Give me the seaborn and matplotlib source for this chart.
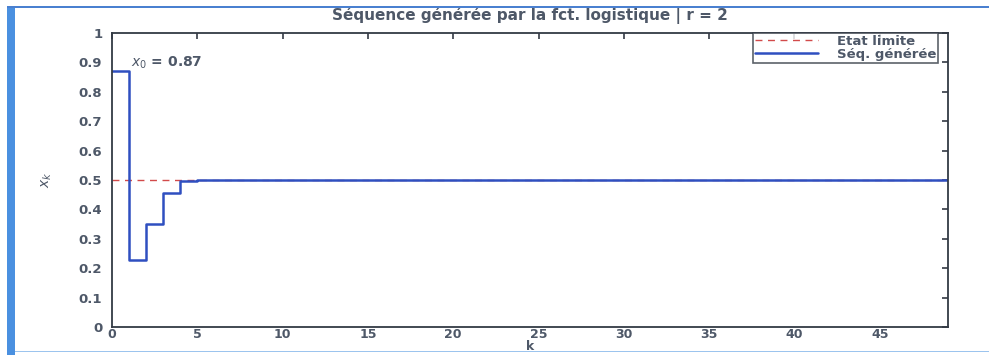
import matplotlib
matplotlib.use("Agg")
import matplotlib.pyplot as plt
import seaborn as sns
import numpy as np
import pandas as pd
from matplotlib.patches import Rectangle

# ---- data ----
k_values = list(range(50))
seq_values = [0.87, 0.2262, 0.3501, 0.4550, 0.4960, 0.49997,
              0.5, 0.5, 0.5, 0.5, 0.5, 0.5, 0.5, 0.5, 0.5, 0.5, 0.5, 0.5, 0.5, 0.5,
              0.5, 0.5, 0.5, 0.5, 0.5, 0.5, 0.5, 0.5, 0.5, 0.5, 0.5, 0.5, 0.5, 0.5,
              0.5, 0.5, 0.5, 0.5, 0.5, 0.5, 0.5, 0.5, 0.5, 0.5, 0.5, 0.5, 0.5, 0.5,
              0.5, 0.5]
limit_k = [0, 49]
limit_values = [0.5, 0.5]
x_ticks = [0, 5, 10, 15, 20, 25, 30, 35, 40, 45]
y_ticks = [0, 0.1, 0.2, 0.3, 0.4, 0.5, 0.6, 0.7, 0.8, 0.9, 1]
y_ticklabels = ["0", "0.1", "0.2", "0.3", "0.4", "0.5", "0.6", "0.7", "0.8", "0.9", "1"]
title_text = "Séquence générée par la fct. logistique | r = 2"
legend_labels = ["Etat limite", "Séq. générée"]
annot_text = r"$x_0$ = 0.87"

sns.set_theme(style="white")
plt.rcParams['font.family'] = ['DejaVu Sans']

txt_color = "#4e5868"
fig = plt.figure(figsize=(9.89, 3.55), dpi=100)
fig.patch.set_facecolor("white")
ax = fig.add_axes([112/989, 1 - 327/355, (948 - 112)/989, (327 - 33)/355])

sns.lineplot(x=limit_k, y=limit_values, ax=ax, color="#d24a4a", linestyle=(0, (5, 4)),
             linewidth=1.0, label=legend_labels[0])
sns.lineplot(x=k_values, y=seq_values, ax=ax, color="#2f4fc0", linewidth=1.8,
             drawstyle="steps-post", label=legend_labels[1])

ax.set_xlim(0, 49)
ax.set_ylim(0, 1)
ax.set_xticks(x_ticks)
ax.set_yticks(y_ticks)
ax.set_yticklabels(y_ticklabels)
ax.tick_params(direction="in", length=4, width=1.2, top=True, right=True,
               labelsize=9.5, labelcolor=txt_color, color="#333a44")
ax.tick_params(axis="x", pad=1, labelsize=9)
ax.tick_params(axis="y", pad=7)
for lab in ax.get_xticklabels() + ax.get_yticklabels():
    lab.set_fontweight("bold")
for sp in ax.spines.values():
    sp.set_color("#333a44")
    sp.set_linewidth(1.3)

ax.set_title(title_text, fontsize=11, fontweight="bold", color=txt_color, pad=9)
ax.set_xlabel("k", fontsize=9, fontweight="bold", color=txt_color, labelpad=-1)
ax.set_ylabel(r"$x_k$", fontsize=10, color=txt_color, labelpad=18)
ax.text(1.1, 0.9, annot_text, fontsize=10, fontweight="bold", color=txt_color,
        va="center", ha="left")

leg = ax.legend(loc="upper right", bbox_to_anchor=(1 - 10/836, 1.0), borderaxespad=0,
                prop={"size": 9.5, "weight": "bold"}, frameon=True, fancybox=False,
                handlelength=4.8, handletextpad=1.4,
                borderpad=0.15, labelspacing=0.0)
leg.get_frame().set_edgecolor("#333a44")
leg.get_frame().set_linewidth(1.2)
for t in leg.get_texts():
    t.set_color(txt_color)

# screenshot frame
fig.add_artist(Rectangle((7/989, 0), 8/989, 1 - 8/355, transform=fig.transFigure,
                         facecolor="#4a90e0", edgecolor="none"))
fig.add_artist(Rectangle((7/989, 1 - 8/355), 1, 2.5/355, transform=fig.transFigure,
                         facecolor="#4a80d0", edgecolor="none"))
fig.add_artist(Rectangle((15/989, 3/355), 1, 1.5/355, transform=fig.transFigure,
                         facecolor="#9cc4ee", edgecolor="none"))

fig.savefig("out.png", dpi=100, facecolor="white")
